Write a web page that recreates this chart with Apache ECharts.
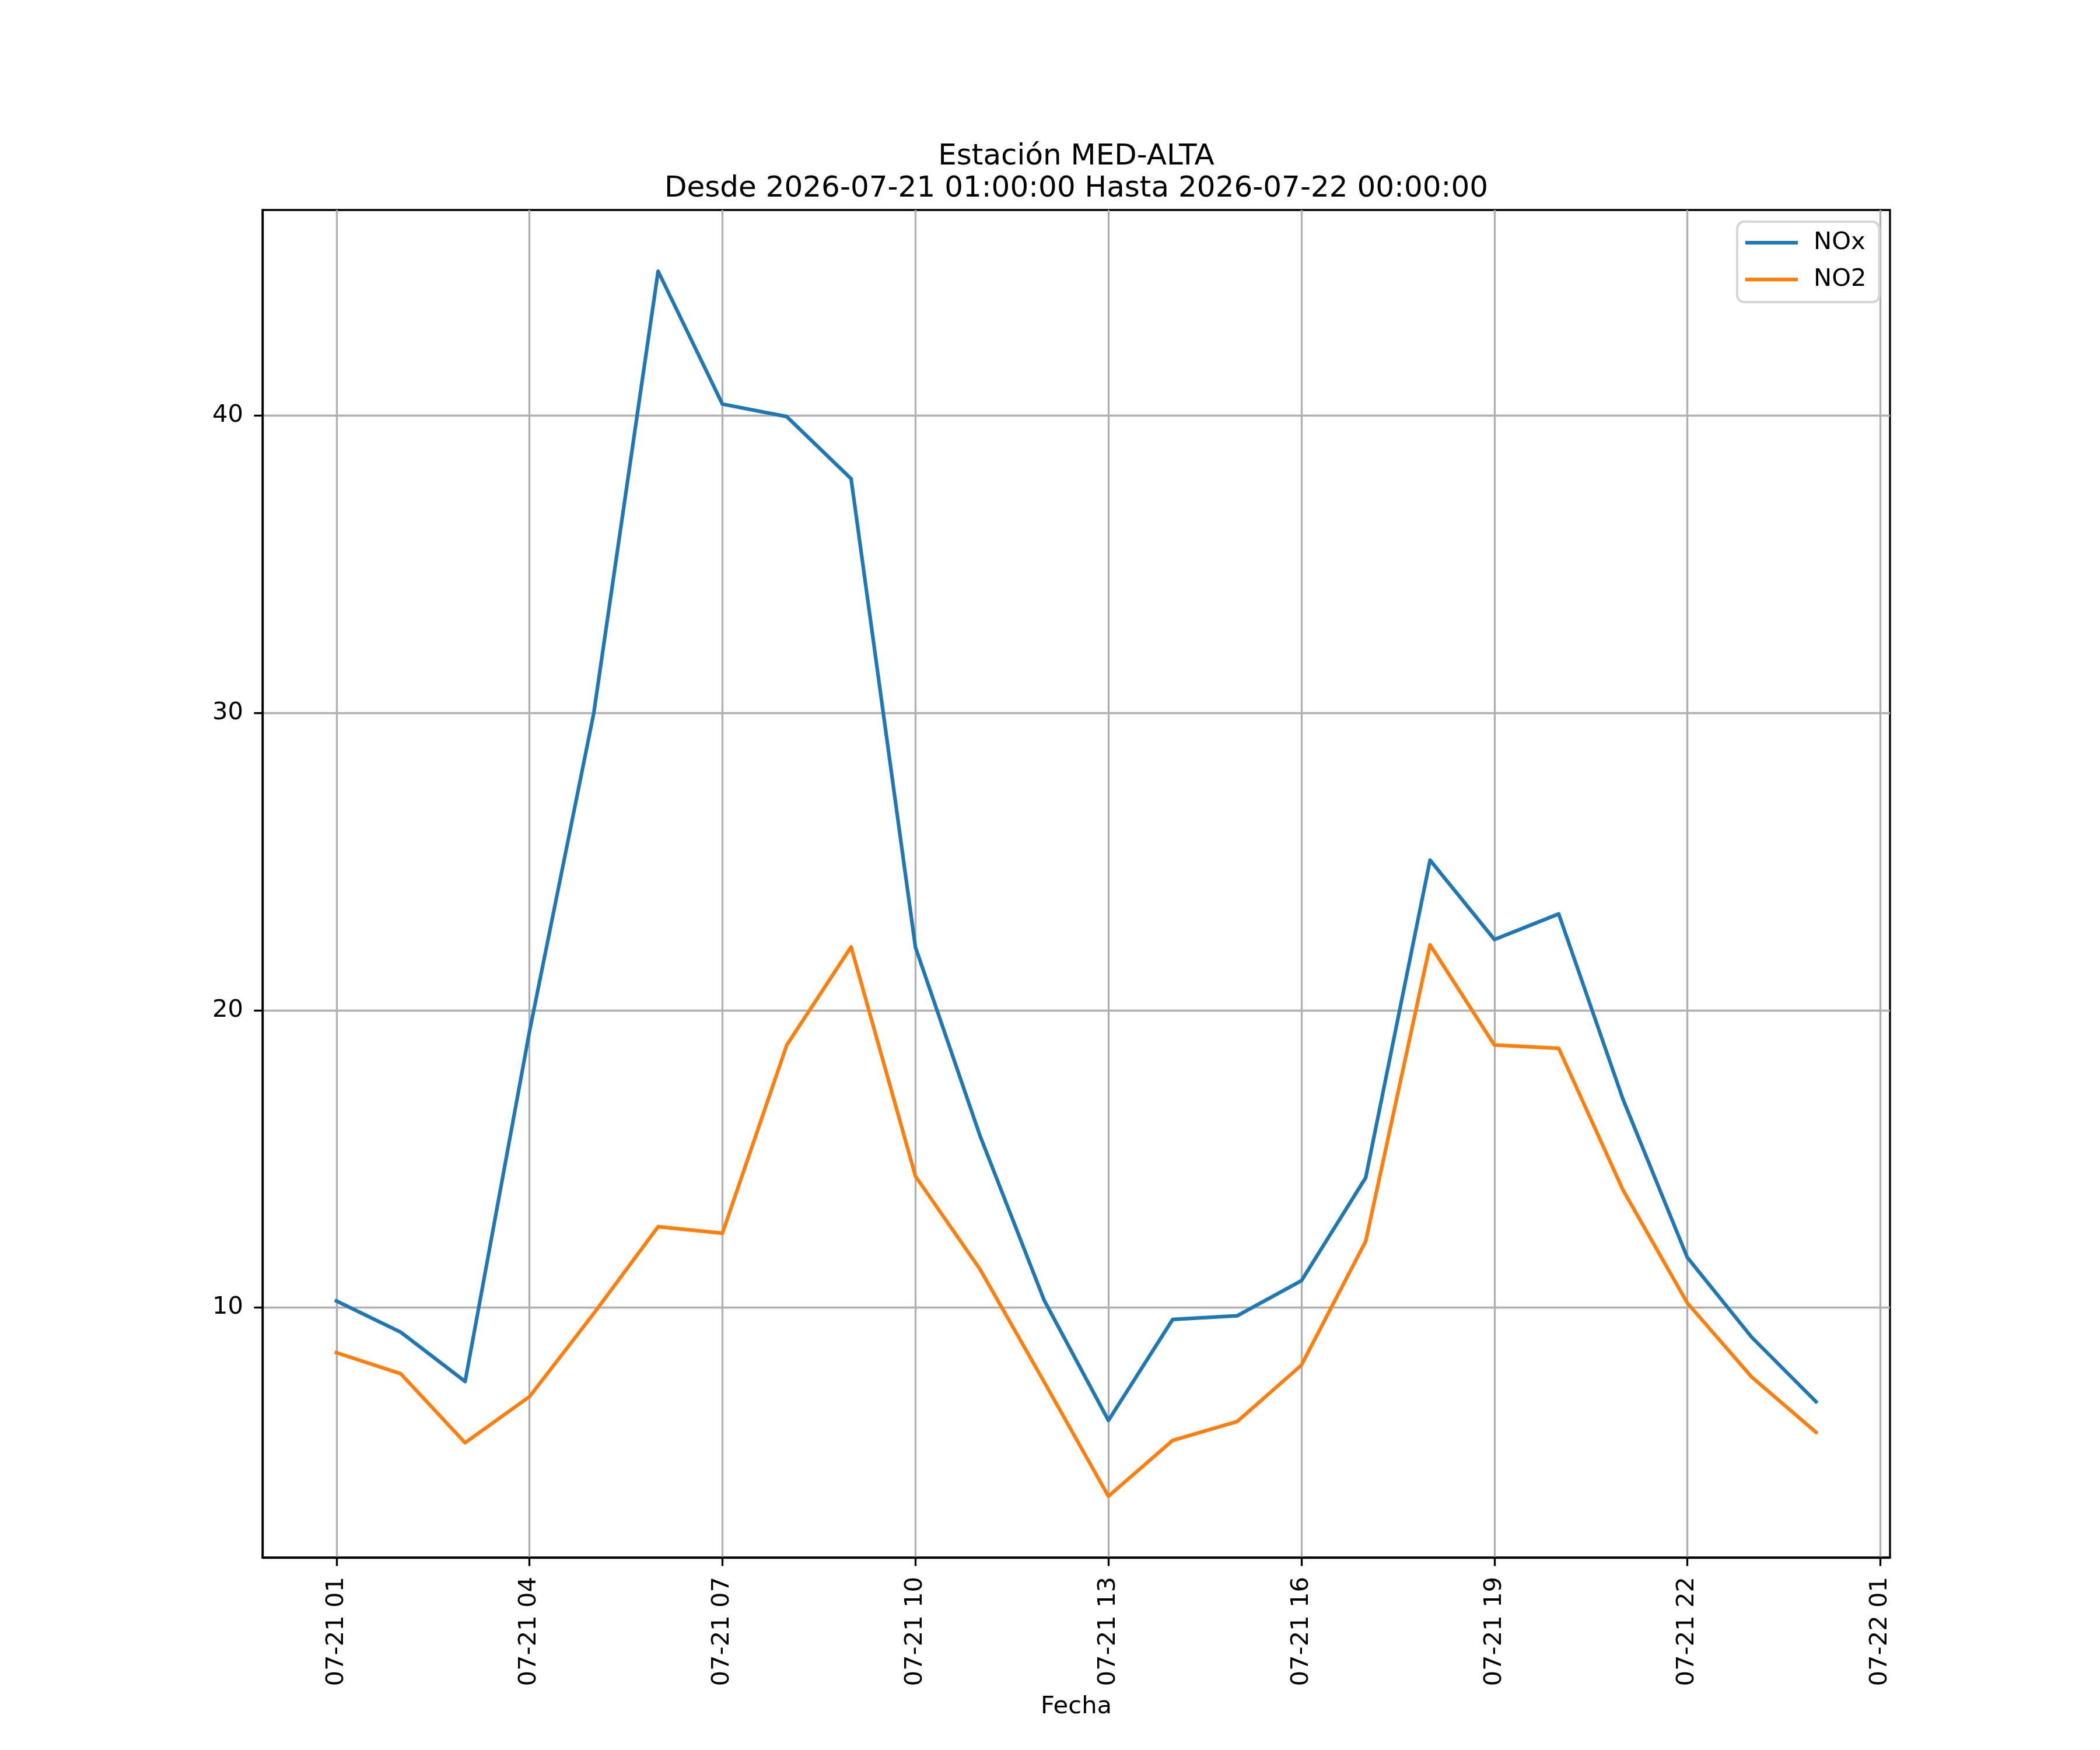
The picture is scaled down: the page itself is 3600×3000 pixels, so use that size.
<!DOCTYPE html>
<html>
<head>
<meta charset="utf-8">
<script src="https://cdn.jsdelivr.net/npm/echarts@6/dist/echarts.min.js"></script>
<style>
html,body{margin:0;padding:0;background:#ffffff;}
#chart{width:3600px;height:3000px;}
</style>
</head>
<body>
<div id="chart"></div>
<script>
// Hours elapsed since 2026-07-21 01:00:00
const hours = [0,1,2,3,4,5,6,7,8,9,10,11,12,13,14,15,16,17,18,19,20,21,22,23];
const noxValues = [10.22, 9.17, 7.51, 19.28, 30.0, 44.86, 40.39, 39.97, 37.88, 22.12, 15.8, 10.25,
                   6.2, 9.6, 9.72, 10.9, 14.37, 25.05, 22.38, 23.24, 17.0, 11.68, 9.0, 6.83];
const no2Values = [8.48, 7.77, 5.45, 7.0, 9.8, 12.72, 12.5, 18.83, 22.13, 14.42, 11.3, 7.5,
                   3.65, 5.53, 6.16, 8.06, 12.23, 22.2, 18.83, 18.72, 13.95, 10.15, 7.66, 5.8];
const seriesNames = ['NOx', 'NO2'];
const xTickValues = [0, 3, 6, 9, 12, 15, 18, 21, 24];
const xTickLabels = ['07-21 01','07-21 04','07-21 07','07-21 10','07-21 13','07-21 16','07-21 19','07-21 22','07-22 01'];
const yTickValues = [10, 20, 30, 40];
const titleLines = ['Estación MED-ALTA', 'Desde 2026-07-21 01:00:00 Hasta 2026-07-22 00:00:00'];
const xAxisTitle = 'Fecha';

// matplotlib-like 5% margins
const xSpan = hours[hours.length - 1] - hours[0];
const xMin = hours[0] - 0.05 * xSpan;
const xMax = hours[hours.length - 1] + 0.05 * xSpan;
const allY = noxValues.concat(no2Values);
const yLo = Math.min.apply(null, allY), yHi = Math.max.apply(null, allY);
const yMin = yLo - 0.05 * (yHi - yLo);
const yMax = yHi + 0.05 * (yHi - yLo);

const FONT = 'DejaVu Sans';
const LW = 6.25;       // 1.5pt @300dpi
const THIN = 3.33;     // 0.8pt @300dpi

const chart = echarts.init(document.getElementById('chart'), null, {renderer: 'canvas', width: 3600, height: 3000});

const option = {
  animation: false,
  backgroundColor: '#ffffff',
  textStyle: {fontFamily: FONT},
  grid: {
    left: 450, top: 360, width: 2790, height: 2310,
    show: true, borderColor: '#000000', borderWidth: THIN, backgroundColor: 'transparent',
    containLabel: false
  },
  legend: {
    show: true,
    orient: 'vertical',
    left: 2978, top: 380,
    padding: [15, 22, 18, 14],
    itemGap: 21,
    itemWidth: 90, itemHeight: LW,
    icon: 'rect',
    backgroundColor: 'rgba(255,255,255,0.8)',
    borderColor: '#d6d6d6', borderWidth: 4.17, borderRadius: 12,
    textStyle: {fontFamily: FONT, fontSize: 41.7, color: '#000000', padding: [0, 0, 0, 22]},
    data: seriesNames
  },
  xAxis: {
    type: 'value',
    min: xMin, max: xMax,
    axisLine: {show: true, onZero: false, lineStyle: {color: '#000000', width: THIN}},
    axisTick: {show: true, length: 14.6, customValues: xTickValues, lineStyle: {color: '#000000', width: THIN}},
    axisLabel: {
      show: true, rotate: 90, margin: 33, customValues: xTickValues,
      fontFamily: FONT, fontSize: 41.7, color: '#000000',
      formatter: function (v) {
        const i = xTickValues.indexOf(Math.round(v));
        return (i >= 0 && Math.abs(v - Math.round(v)) < 1e-6) ? xTickLabels[i] : '';
      }
    },
    splitLine: {show: true, showMinLine: true, showMaxLine: true, lineStyle: {color: '#b0b0b0', width: THIN}}
  },
  yAxis: {
    type: 'value',
    min: yMin, max: yMax,
    axisLine: {show: true, onZero: false, lineStyle: {color: '#000000', width: THIN}},
    axisTick: {show: true, length: 14.6, customValues: yTickValues, lineStyle: {color: '#000000', width: THIN}},
    axisLabel: {
      show: true, margin: 33, customValues: yTickValues,
      fontFamily: FONT, fontSize: 41.7, color: '#000000',
      formatter: function (v) {
        return yTickValues.indexOf(Math.round(v)) >= 0 && Math.abs(v - Math.round(v)) < 1e-6 ? String(Math.round(v)) : '';
      }
    },
    splitLine: {show: true, showMinLine: true, showMaxLine: true, lineStyle: {color: '#b0b0b0', width: THIN}}
  },
  series: [
    {
      name: seriesNames[0], type: 'line', showSymbol: false, symbol: 'none',
      data: hours.map((h, i) => [h, noxValues[i]]),
      color: '#1f77b4',
      lineStyle: {color: '#1f77b4', width: LW, join: 'round', cap: 'square'},
      z: 3
    },
    {
      name: seriesNames[1], type: 'line', showSymbol: false, symbol: 'none',
      data: hours.map((h, i) => [h, no2Values[i]]),
      color: '#ff7f0e',
      lineStyle: {color: '#ff7f0e', width: LW, join: 'round', cap: 'square'},
      z: 3
    }
  ],
  graphic: [
    {type: 'text', x: 1845, y: 269, style: {text: titleLines[0], fontFamily: FONT, fontSize: 50, fill: '#000000', align: 'center', verticalAlign: 'middle'}},
    {type: 'text', x: 1845, y: 324, style: {text: titleLines[1], fontFamily: FONT, fontSize: 50, fill: '#000000', align: 'center', verticalAlign: 'middle'}},
    {type: 'text', x: 1845, y: 2926, style: {text: xAxisTitle, fontFamily: FONT, fontSize: 41.7, fill: '#000000', align: 'center', verticalAlign: 'middle'}}
  ]
};
chart.setOption(option);
</script>
</body>
</html>
